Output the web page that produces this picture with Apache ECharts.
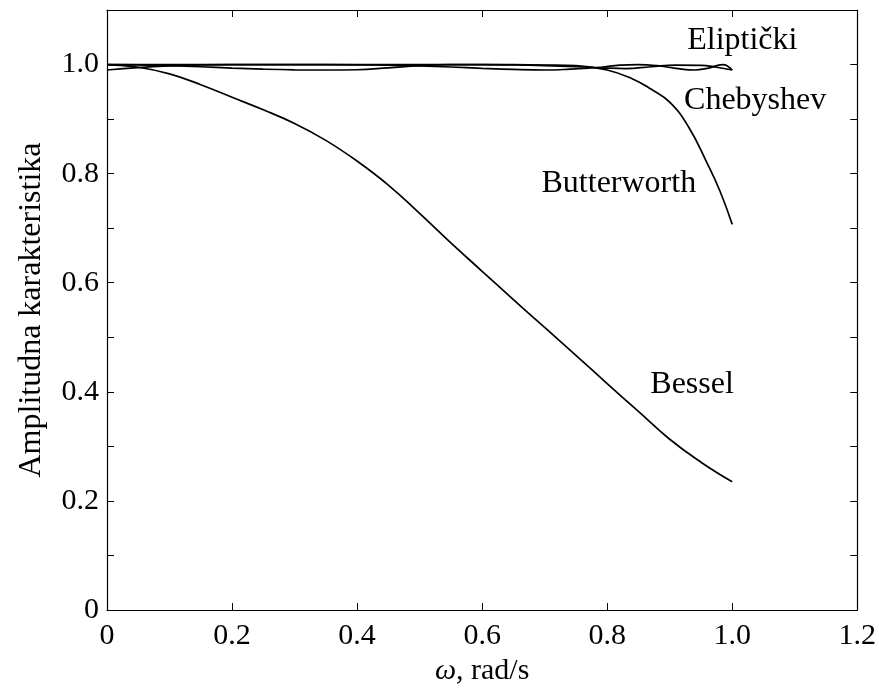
<!DOCTYPE html>
<html>
<head>
<meta charset="utf-8">
<script src="https://cdn.jsdelivr.net/npm/echarts@6/dist/echarts.min.js"></script>
<style>html,body{margin:0;padding:0;background:#fff;overflow:hidden}#c{width:879px;height:693px}</style>
</head>
<body>
<div id="c"></div>
<script>
// x-axis ticks and labels
const xTicks = [0, 0.2, 0.4, 0.6, 0.8, 1.0, 1.2];
const yTicks = [0, 0.2, 0.4, 0.6, 0.8, 1.0];

// Bessel
const wBessel = [0,0.05,0.1,0.15,0.2,0.25,0.3,0.35,0.4,0.45,0.5,0.55,0.6,0.65,0.7,0.75,0.8,0.85,0.9,0.95,1.0];
const aBessel = [1.0,0.995,0.983,0.963,0.940,0.917,0.892,0.861,0.823,0.779,0.727,0.673,0.621,0.569,0.518,0.467,0.415,0.364,0.313,0.271,0.235];

// Butterworth
const wButter = [0,0.1,0.2,0.3,0.4,0.5,0.6,0.65,0.7,0.75,0.8,0.84,0.87,0.9,0.93,0.96,0.98,1.0];
const aButter = [1.0,1.0,1.0,1.0,1.0,1.0,1.0,0.9998,0.9992,0.998,0.990,0.974,0.955,0.931,0.886,0.819,0.769,0.707];

// Chebyshev
const wCheb = [0,0.05,0.1,0.15,0.2,0.25,0.3,0.35,0.4,0.45,0.5,0.55,0.6,0.65,0.7,0.75,0.79,0.83,0.87,0.91,0.95,0.975,1.0];
const aCheb = [1.0,0.9995,0.998,0.996,0.9935,0.9915,0.9903,0.990,0.9905,0.994,0.998,0.9998,1.0,0.9993,0.998,0.996,0.994,0.9925,0.996,0.999,0.9985,0.995,0.990];

// Elliptic
const wElip = [0,0.05,0.1,0.15,0.2,0.3,0.4,0.45,0.5,0.55,0.6,0.65,0.7,0.74,0.79,0.82,0.85,0.88,0.91,0.94,0.96,0.985,1.0];
const aElip = [0.990,0.9945,0.9975,0.9993,1.0,1.0,0.9995,0.999,0.9975,0.9955,0.993,0.991,0.990,0.9915,0.995,0.999,1.0,0.998,0.993,0.990,0.993,1.0,0.990];

// curve labels: text, omega, amplitude (left edge, vertical centre)
const labelText = ['Eliptički', 'Chebyshev', 'Butterworth', 'Bessel'];
const labelW = [0.928, 0.923, 0.695, 0.869];
const labelA = [1.044, 0.934, 0.782, 0.414];

const FONT = 'Liberation Serif, Times New Roman, serif';
const pairs = (xs, ys) => xs.map((x, i) => [x, ys[i]]);

const el = document.getElementById('c');
const chart = echarts.init(el, null, {renderer: 'canvas', width: 879, height: 693});

const tickStyle = {show: true, inside: true, length: 7, lineStyle: {color: '#000', width: 1}};
const lineStyleAxis = {show: true, onZero: false, lineStyle: {color: '#000', width: 1.2}};

function lineSeries(name, xs, ys) {
  return {
    name: name, type: 'line', data: pairs(xs, ys),
    xAxisIndex: 0, yAxisIndex: 0,
    showSymbol: false, symbol: 'none', smooth: 0.45,
    lineStyle: {color: '#000', width: 1.7}, z: 3
  };
}

const option = {
  animation: false,
  backgroundColor: '#fff',
  grid: {left: 107, width: 758, top: 10, height: 600, containLabel: false},
  xAxis: [
    {
      type: 'value', min: 0, max: 1.2, interval: 0.2, position: 'bottom',
      axisLine: lineStyleAxis, axisTick: tickStyle, splitLine: {show: false},
      axisLabel: {
        color: '#000', fontFamily: FONT, fontSize: 30, margin: 11,
        formatter: v => { const i = xTicks.findIndex(t => Math.abs(t - v) < 1e-6); return i < 0 ? '' : (xTicks[i] === 0 ? '0' : xTicks[i].toFixed(1)); }
      },
      name: '{i|ω}, rad/s', nameLocation: 'middle', nameGap: 37,
      nameTextStyle: {color: '#000', fontFamily: FONT, fontSize: 30,
        rich: {i: {fontStyle: 'italic', fontFamily: FONT, fontSize: 30, color: '#000'}}}
    },
    {
      type: 'value', min: 0, max: 1.2, interval: 0.2, position: 'top',
      axisLine: lineStyleAxis, axisTick: tickStyle, splitLine: {show: false},
      axisLabel: {show: false}
    }
  ],
  yAxis: [
    {
      type: 'value', min: 0, max: 1.1, interval: 0.1, position: 'left',
      axisLine: lineStyleAxis, axisTick: tickStyle, splitLine: {show: false},
      axisLabel: {
        color: '#000', fontFamily: FONT, fontSize: 30, margin: 8,
        formatter: v => { const i = yTicks.findIndex(t => Math.abs(t - v) < 1e-6); return i < 0 ? '' : (yTicks[i] === 0 ? '0' : yTicks[i].toFixed(1)); }
      },
      name: 'Amplitudna karakteristika', nameLocation: 'middle', nameGap: 59,
      nameTextStyle: {color: '#000', fontFamily: FONT, fontSize: 32}
    },
    {
      type: 'value', min: 0, max: 1.1, interval: 0.1, position: 'right',
      axisLine: lineStyleAxis, axisTick: tickStyle, splitLine: {show: false},
      axisLabel: {show: false}
    }
  ],
  series: [
    lineSeries('Bessel', wBessel, aBessel),
    lineSeries('Butterworth', wButter, aButter),
    lineSeries('Chebyshev', wCheb, aCheb),
    lineSeries('Eliptički', wElip, aElip)
  ]
};
chart.setOption(option);

const graphics = labelText.map((t, i) => {
  const p = chart.convertToPixel({xAxisIndex: 0, yAxisIndex: 0}, [labelW[i], labelA[i]]);
  return {
    type: 'text', x: p[0], y: p[1], z: 10,
    style: {text: t, fill: '#000', font: '32px ' + FONT, textAlign: 'left', textVerticalAlign: 'middle'}
  };
});
chart.setOption({graphic: graphics});
</script>
</body>
</html>
